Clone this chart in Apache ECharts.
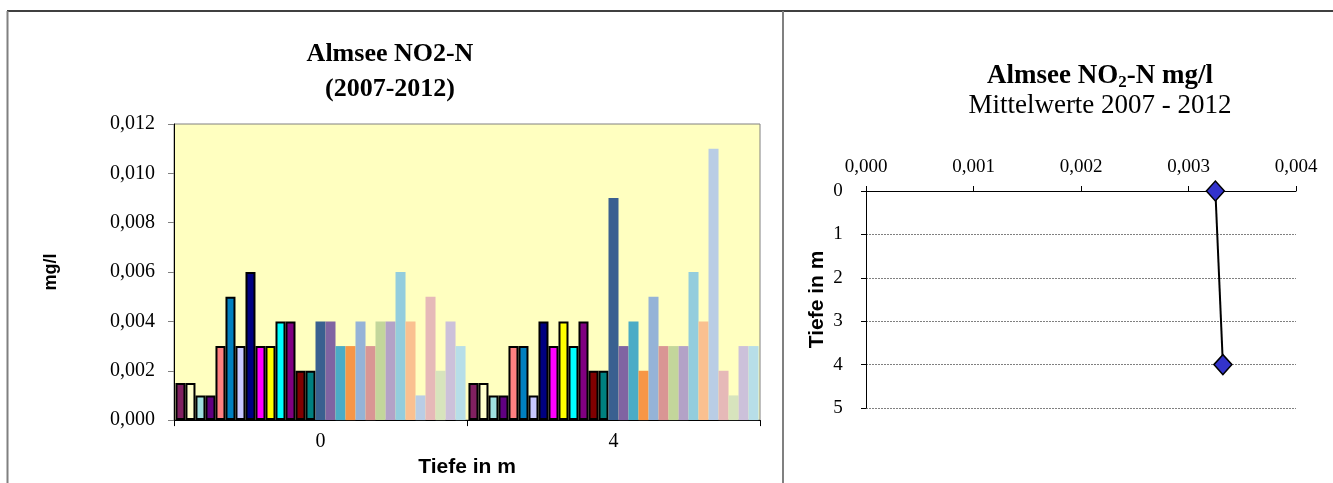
<!DOCTYPE html>
<html>
<head>
<meta charset="utf-8">
<script src="https://cdn.jsdelivr.net/npm/echarts@6/dist/echarts.min.js"></script>
<style>
html,body{margin:0;padding:0;background:#fff;}
#c{width:1333px;height:483px;}
</style>
</head>
<body>
<div id="c"></div>
<script>
// ---- Data ----
const depthCategories = ['0', '4'];
const depth0Values = [0.0015,0.0015,0.001,0.001,0.003,0.005,0.003,0.006,0.003,0.003,0.004,0.004,0.002,0.002,
                      0.004,0.004,0.003,0.003,0.004,0.003,0.004,0.004,0.006,0.004,0.001,0.005,0.002,0.004,0.003];
const depth4Values = [0.0015,0.0015,0.001,0.001,0.003,0.003,0.001,0.004,0.003,0.004,0.003,0.004,0.002,0.002,
                      0.009,0.003,0.004,0.002,0.005,0.003,0.003,0.003,0.006,0.004,0.011,0.002,0.001,0.003,0.003];
const meanDepths = [0, 4];
const meanValues = [0.00325, 0.00332];

// ---- Styles ----
const seriesColors = ['#802060','#ffffcc','#a0e0e0','#600080','#ff8080','#0080c0','#c8c8ff','#000080','#ff00ff','#ffff00','#00ffff','#800080','#800000','#008080',
  '#3a6090','#8064a2','#4bacc6','#f79646','#95b3d7','#d99694','#c3d69b','#b3a2c7','#93cddd','#fac090','#b9cde5','#e6b9b8','#d7e4bd','#ccc1da','#b7dee8'];
const borderedCount = 14;

const serif = 'Liberation Serif';
const sans = 'Liberation Sans';
const comma3 = v => v.toFixed(3).replace('.', ',');

const barSeries = seriesColors.map((col, i) => ({
  type: 'bar',
  xAxisIndex: 0, yAxisIndex: 0,
  barGap: '0%',
  barCategoryGap: '1%',
  data: [depth0Values[i], depth4Values[i]],
  itemStyle: {
    color: col,
    borderColor: i < borderedCount ? '#000' : col,
    borderWidth: i < borderedCount ? 2 : 0
  },
  silent: true
}));

const chart = echarts.init(document.getElementById('c'), null, {renderer: 'canvas'});
chart.setOption({
  animation: false,
  backgroundColor: '#ffffff',
  title: [
    {
      text: 'Almsee NO2-N\n(2007-2012)',
      left: 385, top: 32, textAlign: 'center',
      textStyle: {fontFamily: serif, fontWeight: 'bold', fontSize: 26, lineHeight: 35, color: '#000'}
    },
    {
      text: '{b|Almsee NO}{s|2}{b|-N mg/l}\n{n|Mittelwerte 2007 - 2012}',
      left: 1095, top: 56, textAlign: 'center',
      textStyle: {
        fontWeight: 'normal',
        rich: {
          b: {fontFamily: serif, fontWeight: 'bold', fontSize: 27, color: '#000', lineHeight: 30},
          s: {fontFamily: serif, fontWeight: 'bold', fontSize: 17, color: '#000', verticalAlign: 'bottom', padding: [14,0,0,0], lineHeight: 30},
          n: {fontFamily: serif, fontWeight: 'normal', fontSize: 27, color: '#000', lineHeight: 30}
        }
      }
    }
  ],
  graphic: [
    {type: 'line', shape: {x1: 7, y1: 11, x2: 1333, y2: 11}, style: {stroke: '#000', lineWidth: 1.5}, silent: true},
    {type: 'line', shape: {x1: 7.5, y1: 11, x2: 7.5, y2: 483}, style: {stroke: '#808080', lineWidth: 2}, silent: true},
    {type: 'line', shape: {x1: 783, y1: 11, x2: 783, y2: 483}, style: {stroke: '#808080', lineWidth: 2}, silent: true}
  ],
  grid: [
    {left: 174, top: 124, width: 586, height: 298, show: true, backgroundColor: '#ffffc0', borderColor: '#808080', borderWidth: 1},
    {left: 866, top: 191, width: 430, height: 217, show: false}
  ],
  xAxis: [
    {
      type: 'category', gridIndex: 0, data: depthCategories,
      name: 'Tiefe in m', nameLocation: 'middle', nameGap: 29,
      nameTextStyle: {fontFamily: sans, fontWeight: 'bold', fontSize: 21, color: '#000'},
      axisLine: {lineStyle: {color: '#000', width: 1}},
      axisTick: {show: true, length: 6, lineStyle: {color: '#000'}},
      axisLabel: {fontFamily: serif, fontSize: 20, color: '#000', margin: 12},
      splitLine: {show: false}
    },
    {
      type: 'value', gridIndex: 1, position: 'top',
      min: 0, max: 0.004, interval: 0.001,
      axisLine: {show: true, lineStyle: {color: '#000', width: 1}},
      axisTick: {show: true, length: 5, lineStyle: {color: '#000'}},
      axisLabel: {fontFamily: serif, fontSize: 19, color: '#000', margin: 14, formatter: comma3},
      splitLine: {show: false}
    }
  ],
  yAxis: [
    {
      type: 'value', gridIndex: 0,
      min: 0, max: 0.012, interval: 0.002,
      name: 'mg/l', nameLocation: 'middle', nameGap: 114, nameRotate: 90,
      nameTextStyle: {fontFamily: sans, fontWeight: 'bold', fontSize: 18, color: '#000'},
      axisLine: {show: true, lineStyle: {color: '#000', width: 1}},
      axisTick: {show: true, length: 6, lineStyle: {color: '#808080'}},
      axisLabel: {fontFamily: serif, fontSize: 20, color: '#000', margin: 19, formatter: comma3},
      splitLine: {show: false}
    },
    {
      type: 'value', gridIndex: 1, inverse: true,
      min: 0, max: 5, interval: 1,
      name: 'Tiefe in m', nameLocation: 'middle', nameGap: 38, nameRotate: 90,
      nameTextStyle: {fontFamily: sans, fontWeight: 'bold', fontSize: 21, color: '#000'},
      axisLine: {show: true, lineStyle: {color: '#000', width: 1}},
      axisTick: {show: true, length: 5, lineStyle: {color: '#000'}},
      axisLabel: {fontFamily: serif, fontSize: 19, color: '#000', margin: 28, align: 'center'},
      splitLine: {show: true, lineStyle: {color: '#808080', type: [2, 1], width: 1}}
    }
  ],
  series: barSeries.concat([{
    type: 'line',
    xAxisIndex: 1, yAxisIndex: 1,
    data: meanValues.map((v, i) => [v, meanDepths[i]]),
    lineStyle: {color: '#000', width: 2},
    symbol: 'diamond', symbolSize: [18, 20],
    itemStyle: {color: '#3333cc', borderColor: '#000', borderWidth: 1.5},
    silent: true
  }])
});
</script>
</body>
</html>
